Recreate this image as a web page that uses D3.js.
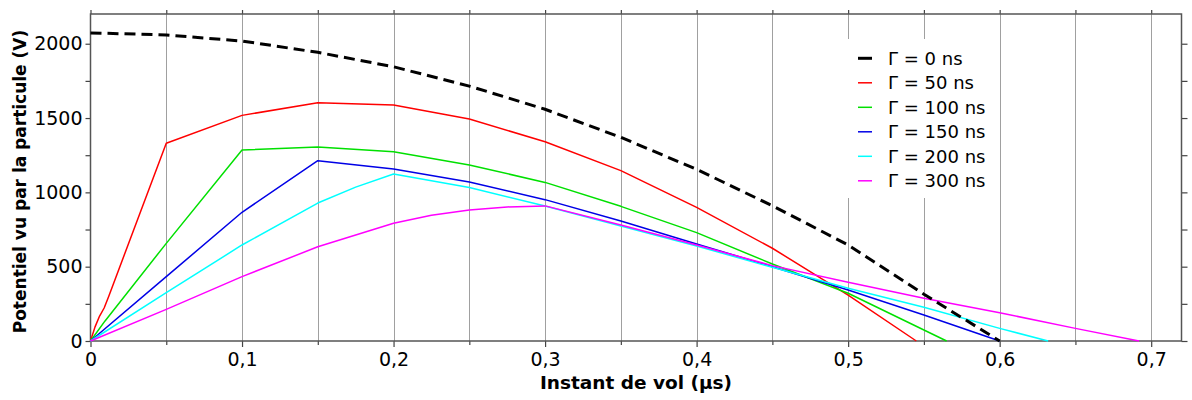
<!DOCTYPE html>
<html><head><meta charset="utf-8">
<script src="https://cdn.jsdelivr.net/npm/d3@7"></script>
<style>
html,body{margin:0;padding:0;background:#fff;}
svg{display:block;font-family:"DejaVu Sans",Verdana,sans-serif;}
</style></head>
<body>
<svg id="chart" width="1192" height="400"></svg>
<script>
// ---- data ----
const legendLabels = ["Γ = 0 ns","Γ = 50 ns","Γ = 100 ns","Γ = 150 ns","Γ = 200 ns","Γ = 300 ns"];
const seriesColors = ["#000000","#ff0000","#00e000","#0000e6","#00ffff","#ff00ff"];

const t0   = [0,0.05,0.1,0.15,0.2,0.25,0.3,0.35,0.4,0.45,0.5,0.55,0.6];
const v0   = [2073,2059,2018,1942,1845,1715,1559,1370,1155,910,646,315,0];

const t50  = [0,0.003,0.006,0.009,0.012,0.05,0.1,0.15,0.2,0.25,0.3,0.35,0.4,0.45,0.5,0.545];
const v50  = [0,95,168,222,300,1330,1518,1603,1588,1493,1341,1146,899,624,309,0];

const t100 = [0,0.0096,0.05,0.1,0.15,0.2,0.25,0.3,0.35,0.4,0.45,0.5,0.565];
const v100 = [0,135,657,1285,1305,1274,1184,1067,906,729,518,321,0];

const t150 = [0,0.05,0.1,0.15,0.2,0.25,0.3,0.35,0.4,0.45,0.5,0.55,0.6];
const v150 = [0,433,866,1213,1157,1070,951,807,653,500,343,175,0];

const t200 = [0,0.05,0.1,0.15,0.175,0.2,0.25,0.3,0.35,0.4,0.45,0.5,0.55,0.6,0.632];
const v200 = [0,325,646,928,1035,1123,1033,908,774,639,496,355,227,85,0];

const t300 = [0,0.05,0.1,0.15,0.2,0.225,0.25,0.275,0.3,0.35,0.4,0.45,0.5,0.55,0.6,0.65,0.692];
const v300 = [0,213,433,634,792,846,882,902,909,780,646,507,395,287,190,85,0];

const xTickValues = [0,0.1,0.2,0.3,0.4,0.5,0.6,0.7];
const xTickLabels = ["0","0,1","0,2","0,3","0,4","0,5","0,6","0,7"];
const xGridValues = [0.05,0.1,0.15,0.2,0.25,0.3,0.35,0.4,0.45,0.5,0.55,0.6,0.65,0.7];
const yTickValues = [0,500,1000,1500,2000];
const yTickLabels = ["0","500","1000","1500","2000"];
const yMinorValues = [250,750,1250,1750];

const xTitle = "Instant de vol (µs)";
const yTitle = "Potentiel vu par la particule (V)";

// ---- build ----
const series = [
  {t:t0,v:v0},{t:t50,v:v50},{t:t100,v:v100},{t:t150,v:v150},{t:t200,v:v200},{t:t300,v:v300}
].map((s,i)=>({label:legendLabels[i],color:seriesColors[i],
  pts:s.t.map((d,j)=>({x:d,y:s.v[j]}))}));

const svg = d3.select("#chart");
const L=90.5, R=1181.5, T=14, B=341;
const x = d3.scaleLinear().domain([0,0.72]).range([L,R]);
const y = d3.scaleLinear().domain([0,2200]).range([B,T]);

// grid
svg.append("g").selectAll("line").data(xGridValues).join("line")
  .attr("x1",d=>Math.round(x(d))+0.5).attr("x2",d=>Math.round(x(d))+0.5)
  .attr("y1",T).attr("y2",B)
  .attr("stroke","#a0a0a0").attr("stroke-width",1);

// legend background (covers grid)
svg.append("rect").attr("x",843).attr("y",39).attr("width",154).attr("height",159).attr("fill","#fff");

// axes
const fmtX = d=>xTickLabels[xTickValues.indexOf(d)];
const fmtY = d=>yTickLabels[yTickValues.indexOf(d)];

const gx = svg.append("g").attr("transform",`translate(0,${B})`)
  .call(d3.axisBottom(x).tickValues(xTickValues).tickFormat(fmtX).tickSize(6).tickPadding(6));
const gxm = svg.append("g").attr("transform",`translate(0,${B})`)
  .call(d3.axisBottom(x).tickValues(xGridValues.filter(d=>!xTickValues.some(v=>Math.abs(v-d)<1e-9))).tickFormat("").tickSize(4));
const gxt = svg.append("g").attr("transform",`translate(0,${T})`)
  .call(d3.axisTop(x).tickValues(xGridValues.concat([0])).tickFormat("").tickSize(4));

const gy = svg.append("g").attr("transform",`translate(${L},0)`)
  .call(d3.axisLeft(y).tickValues(yTickValues).tickFormat(fmtY).tickSize(5).tickPadding(3));
const gym = svg.append("g").attr("transform",`translate(${L},0)`)
  .call(d3.axisLeft(y).tickValues(yMinorValues).tickFormat("").tickSize(5));
const gyr = svg.append("g").attr("transform",`translate(${R},0)`)
  .call(d3.axisRight(y).tickValues(yTickValues.concat(yMinorValues)).tickFormat("").tickSize(6));

[gx,gxm,gxt,gy,gym,gyr].forEach(g=>{
  g.select(".domain").remove();
  g.selectAll(".tick line").attr("stroke","#444").attr("stroke-width",1.2);
  g.selectAll(".tick text").attr("fill","#000").style("font-size","19px").style("font-family","'DejaVu Sans',Verdana,sans-serif");
});

// frame
svg.append("rect").attr("x",L).attr("y",T).attr("width",R-L).attr("height",B-T)
  .attr("fill","none").attr("stroke","#555").attr("stroke-width",1.5);

// lines
const line = d3.line().x(d=>x(d.x)).y(d=>y(d.y));
svg.append("g").selectAll("path").data(series.slice(1)).join("path")
  .attr("d",d=>line(d.pts)).attr("fill","none")
  .attr("stroke",d=>d.color).attr("stroke-width",1.5).attr("stroke-linejoin","round");
svg.append("path").datum(series[0]).attr("d",d=>line(d.pts)).attr("fill","none")
  .attr("stroke","#000").attr("stroke-width",3).attr("stroke-dasharray","11,6");

// legend
const lg = svg.append("g");
series.forEach((s,i)=>{
  const cy = 58.3 + i*24.5;
  lg.append("line").attr("x1",858).attr("x2",872).attr("y1",cy).attr("y2",cy)
    .attr("stroke",s.color).attr("stroke-width", i===0?3:1.5);
  lg.append("text").attr("x",888).attr("y",cy).attr("dy","0.36em")
    .style("font-size","18px").attr("fill","#000").text(s.label);
});

// titles
svg.append("text").attr("x",(L+R)/2).attr("y",389).attr("text-anchor","middle")
  .style("font-size","18.5px").style("font-weight","bold").text(xTitle);
svg.append("text").attr("transform",`translate(26,${(T+B)/2+4}) rotate(-90)`).attr("text-anchor","middle")
  .style("font-size","17px").style("font-weight","bold").text(yTitle);
</script>
</body></html>
